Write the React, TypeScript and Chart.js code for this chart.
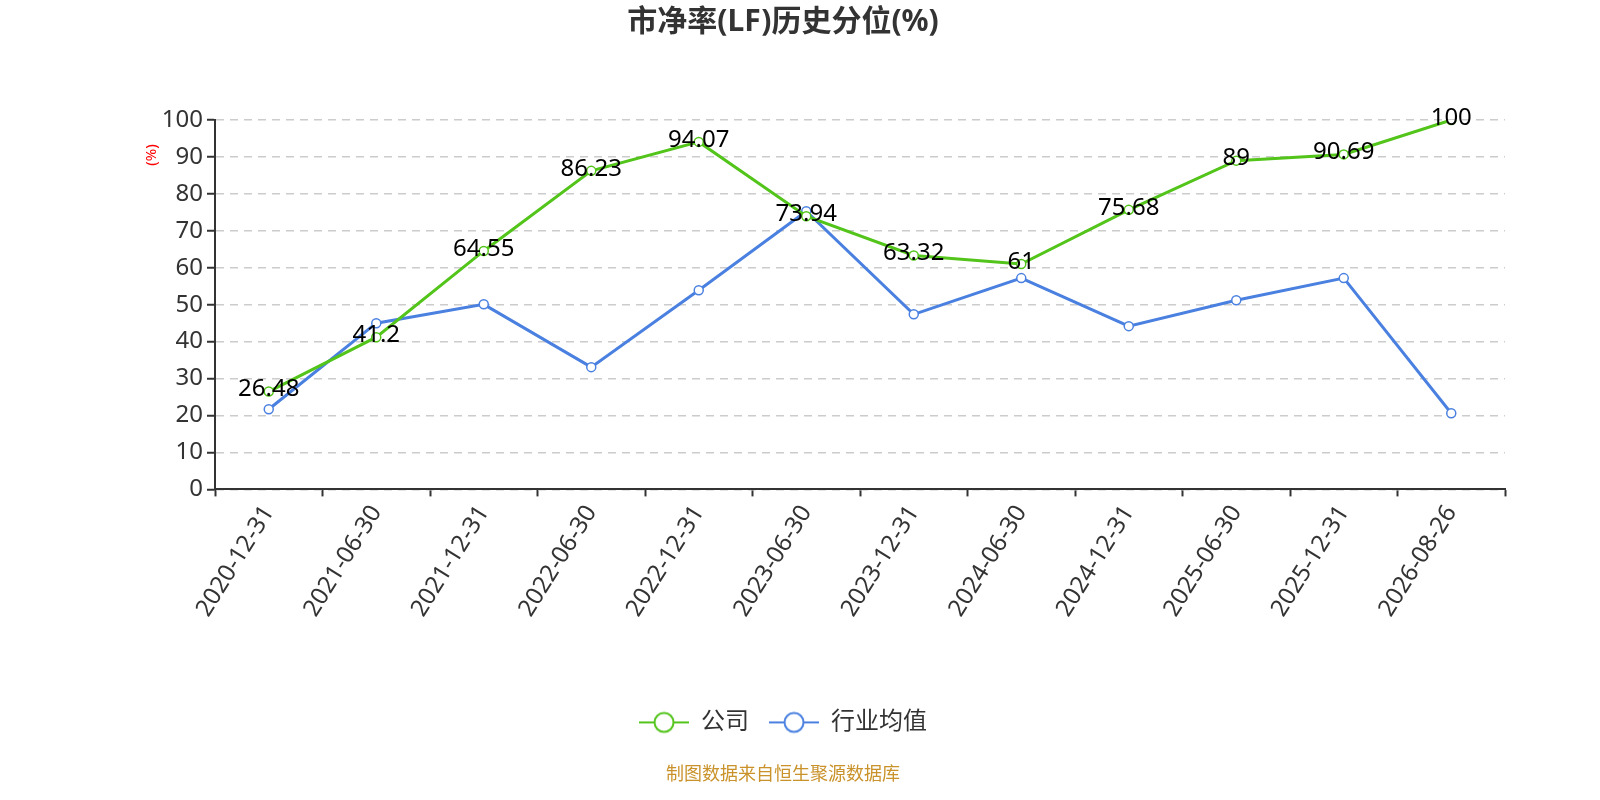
import React, { useEffect, useRef } from "react";
import { Chart, registerables } from "chart.js";

Chart.register(...registerables);

const dates = [
	"2020-12-31", "2021-06-30", "2021-12-31", "2022-06-30", "2022-12-31", "2023-06-30",
	"2023-12-31", "2024-06-30", "2024-12-31", "2025-06-30", "2025-12-31", "2026-08-26",
];
const companyValues = [26.48, 41.2, 64.55, 86.23, 94.07, 73.94, 63.32, 61, 75.68, 89, 90.69, 100];
const industryValues = [21.7, 45.0, 50.1, 33.1, 53.9, 75.3, 47.4, 57.2, 44.2, 51.2, 57.2, 20.6];
const yTicks = [0, 10, 20, 30, 40, 50, 60, 70, 80, 90, 100];

const GREEN = "#52c41a";
const BLUE = "#4a80e0";
const FONT = "'Noto Sans', 'Noto Sans CJK SC', sans-serif";

// legend icon: short line with a hollow circle in the middle
const legendIcon = (color: string) => {
	const c = document.createElement("canvas");
	c.width = 50;
	c.height = 24;
	const g = c.getContext("2d");
	if (g) {
		g.strokeStyle = color;
		g.lineWidth = 2;
		g.beginPath();
		g.moveTo(0, 12);
		g.lineTo(50, 12);
		g.stroke();
		g.beginPath();
		g.arc(25, 12, 9.5, 0, Math.PI * 2);
		g.fillStyle = "#fff";
		g.fill();
		g.stroke();
	}
	return c;
};

const valueLabels = {
	id: "valueLabels",
	afterDatasetsDraw(chart: any) {
		const ctx = chart.ctx;
		const meta = chart.getDatasetMeta(0);
		ctx.save();
		ctx.font = `24px ${FONT}`;
		ctx.fillStyle = "#000";
		ctx.textAlign = "center";
		ctx.textBaseline = "middle";
		meta.data.forEach((pt: any, i: number) => {
			ctx.fillText(String(companyValues[i]), pt.x, pt.y - 2);
		});
		ctx.restore();
	},
};

const unitLabel = {
	id: "unitLabel",
	afterDraw(chart: any) {
		const ctx = chart.ctx;
		const y = chart.scales.y;
		ctx.save();
		ctx.translate(y.right - 63, y.getPixelForValue(90.5));
		ctx.rotate(-Math.PI / 2);
		ctx.font = `15px ${FONT}`;
		ctx.fillStyle = "#ff0000";
		ctx.textAlign = "center";
		ctx.textBaseline = "middle";
		ctx.fillText("(%)", 0, 0);
		ctx.restore();
	},
};

const App: React.FC = () => {
	const chartRef = useRef<HTMLCanvasElement>(null);
	const chartInstance = useRef<Chart | null>(null);

	useEffect(() => {
		document.body.style.margin = "0";
		document.body.style.overflow = "hidden";
		if (!chartRef.current) return;
		if (chartInstance.current) chartInstance.current.destroy();
		const ctx = chartRef.current.getContext("2d");
		if (!ctx) return;

		chartInstance.current = new Chart(ctx, {
			type: "line",
			data: {
				labels: dates,
				datasets: [
					{
						label: "公司",
						data: companyValues,
						borderColor: GREEN,
						backgroundColor: "#fff",
						borderWidth: 3,
						pointRadius: 4.5,
						pointBorderWidth: 1.5,
						pointBorderColor: GREEN,
						pointBackgroundColor: "#fff",
						tension: 0,
					},
					{
						label: "行业均值",
						data: industryValues,
						borderColor: BLUE,
						backgroundColor: "#fff",
						borderWidth: 3,
						pointRadius: 4.5,
						pointBorderWidth: 1.5,
						pointBorderColor: BLUE,
						pointBackgroundColor: "#fff",
						tension: 0,
					},
				],
			},
			options: {
				responsive: false,
				animation: false,
				layout: { padding: { left: 0, right: 34, top: 0, bottom: 0 } },
				plugins: {
					title: {
						display: true,
						text: "市净率(LF)历史分位(%)",
						color: "#333",
						font: { family: FONT, size: 30, weight: "bold" },
						padding: { top: 4, bottom: 80 },
					},
					subtitle: {
						display: true,
						position: "bottom",
						text: "制图数据来自恒生聚源数据库",
						color: "#c9922a",
						font: { family: FONT, size: 18 },
						padding: { top: 20, bottom: 14 },
					},
					legend: {
						position: "bottom",
						labels: {
							usePointStyle: true,
							pointStyleWidth: 50,
							color: "#333",
							padding: 20,
							font: { family: FONT, size: 24 },
							generateLabels: () => [
								{ text: "公司", pointStyle: legendIcon(GREEN), fillStyle: GREEN, strokeStyle: GREEN, lineWidth: 0, datasetIndex: 0, fontColor: "#333" },
								{ text: "行业均值", pointStyle: legendIcon(BLUE), fillStyle: BLUE, strokeStyle: BLUE, lineWidth: 0, datasetIndex: 1, fontColor: "#333" },
							] as any,
						},
					},
					tooltip: { enabled: false },
				},
				scales: {
					x: {
						offset: true,
						afterFit: (s: any) => { s.height = 201; },
						grid: {
							display: true,
							offset: true,
							drawOnChartArea: false,
							drawTicks: true,
							tickLength: 7,
							tickColor: "#333",
							tickWidth: 2,
						},
						border: { color: "#333", width: 2 },
						ticks: {
							color: "#333",
							font: { family: FONT, size: 24 },
							minRotation: 58,
							maxRotation: 58,
							autoSkip: false,
							padding: 4,
						},
					},
					y: {
						min: 0,
						max: 100,
						afterFit: (s: any) => { s.width = 215; },
						afterBuildTicks: (s: any) => { s.ticks = yTicks.map((v) => ({ value: v })); },
						grid: {
							color: "#cccccc",
							lineWidth: 1.5,
							drawTicks: true,
							tickLength: 8,
							tickColor: "#333",
							tickWidth: 2,
						},
						border: { color: "#333", width: 2, dash: [8, 6] },
						ticks: {
							color: "#333",
							font: { family: FONT, size: 24 },
							padding: 4,
						},
					},
					yRight: {
						position: "right",
						afterFit: (s: any) => { s.width = 61; },
						grid: { display: false },
						border: { display: false },
						ticks: { display: false },
					},
				},
			},
			plugins: [valueLabels, unitLabel],
		});

		return () => {
			if (chartInstance.current) {
				chartInstance.current.destroy();
				chartInstance.current = null;
			}
		};
	}, []);

	return (
		<div style={{ width: 1600, height: 800, background: "#fff" }}>
			<canvas ref={chartRef} width={1600} height={800}></canvas>
		</div>
	);
};

export default App;
